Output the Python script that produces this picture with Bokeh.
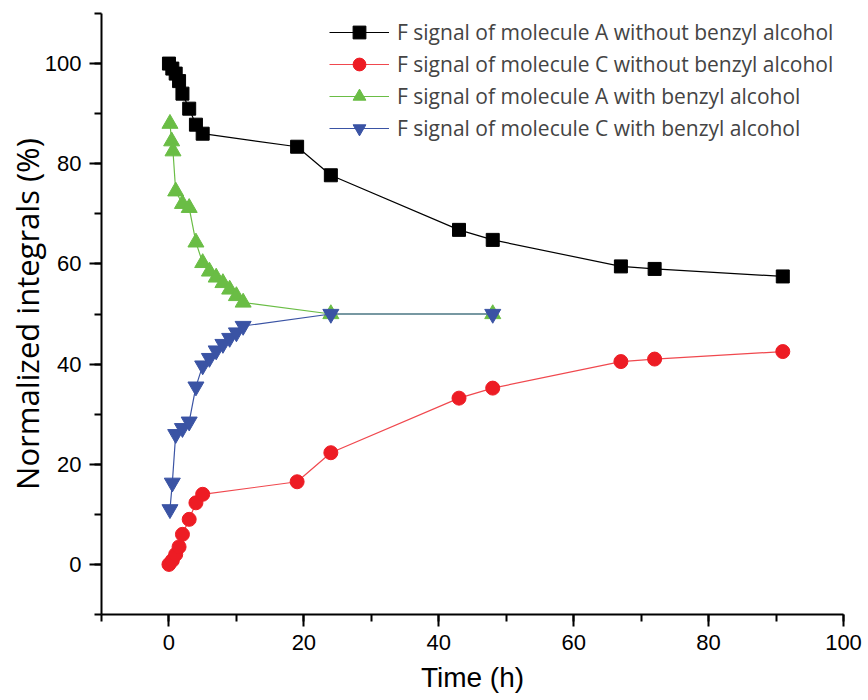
from bokeh.plotting import figure
from bokeh.models import Range1d, SingleIntervalTicker, Legend, LegendItem
from bokeh.embed import file_html
from bokeh.resources import INLINE

# Data
a_no_t = [0, 0.5, 1, 1.5, 2, 3, 4, 5, 19, 24, 43, 48, 67, 72, 91]
a_no_v = [100, 99, 98, 96.5, 94, 91, 87.8, 86, 83.4, 77.7, 66.8, 64.8, 59.5, 59, 57.5]

c_no_t = [0, 0.5, 1, 1.5, 2, 3, 4, 5, 19, 24, 43, 48, 67, 72, 91]
c_no_v = [0, 0.8, 2, 3.5, 6, 9, 12.3, 14, 16.5, 22.3, 33.2, 35.2, 40.5, 41, 42.5]

a_w_t = [0.15, 0.4, 0.6, 1, 2, 3, 4, 5, 6, 7, 8, 9, 10, 11, 24, 48]
a_w_v = [88, 84.5, 82.5, 74.5, 72, 71.2, 64.3, 60.2, 58.5, 57.3, 56.2, 54.9, 53.6, 52.3, 50, 50]

c_w_t = [0.15, 0.5, 1, 2, 3, 4, 5, 6, 7, 8, 9, 10, 11, 24, 48]
c_w_v = [11, 16.3, 26, 27.2, 28.5, 35.5, 39.7, 41.2, 42.7, 44, 45.2, 46.3, 47.6, 50, 50]

labels = [
    "F signal of molecule A without benzyl alcohol",
    "F signal of molecule C without benzyl alcohol",
    "F signal of molecule A with benzyl alcohol",
    "F signal of molecule C with benzyl alcohol",
]
colors = ["#000000", "#ed1c24", "#6abd45", "#3a53a4"]
line_colors = ["#000000", "#f0484e", "#6abd45", "#3a53a4"]
markers = ["square", "circle", "triangle", "inverted_triangle"]
sizes = [13, 14, 16, 16]

p = figure(width=868, height=700, output_backend="svg", toolbar_location=None,
           x_range=Range1d(-10, 100), y_range=Range1d(-10, 110),
           min_border_left=101, min_border_right=25, min_border_top=13, min_border_bottom=86)
p.xgrid.visible = False
p.ygrid.visible = False
p.outline_line_color = None

series = [(a_no_t, a_no_v), (c_no_t, c_no_v), (a_w_t, a_w_v), (c_w_t, c_w_v)]
items = []
for (t, v), lab, col, lc, mk, sz in zip(series, labels, colors, line_colors, markers, sizes):
    r1 = p.line(t, v, line_color=lc, line_width=1.2)
    r2 = p.scatter(t, v, marker=mk, size=sz, fill_color=col, line_color=col)
    items.append(LegendItem(label=lab, renderers=[r1, r2]))

legend = Legend(items=items, location=(228, 470), margin=0, padding=9,
                glyph_width=60, glyph_height=32, label_height=20, spacing=0,
                label_standoff=8, label_text_font="Open Sans", label_text_font_size="21px",
                label_text_baseline="middle",
                background_fill_alpha=0, border_line_color=None)
p.add_layout(legend, "center")

for ax in (p.xaxis[0], p.yaxis[0]):
    ax.axis_line_width = 2
    ax.axis_line_color = "black"
    ax.major_tick_line_width = 2
    ax.minor_tick_line_width = 2
    ax.major_tick_in = 0
    ax.major_tick_out = 12
    ax.minor_tick_in = 0
    ax.minor_tick_out = 7
    ax.major_label_text_color = "black"
    ax.major_label_text_font = "Liberation Sans"
    ax.major_label_text_font_size = "22px"
    ax.axis_label_text_font_style = "normal"
    ax.axis_label_text_color = "black"

p.xaxis.ticker = SingleIntervalTicker(interval=20, num_minor_ticks=2)
p.yaxis.ticker = SingleIntervalTicker(interval=20, num_minor_ticks=2)

p.xaxis.major_label_standoff = 8
p.xaxis.axis_label = "Time (h)"
p.xaxis.axis_label_text_font = "Liberation Sans"
p.xaxis.axis_label_text_font_size = "28px"
p.xaxis.axis_label_standoff = 9

p.yaxis.major_label_standoff = 8
p.yaxis.axis_label = "Normalized integrals (%)"
p.yaxis.axis_label_text_font = "Open Sans"
p.yaxis.axis_label_text_font_size = "31px"
p.yaxis.axis_label_standoff = -6

open("out.html", "w").write(file_html(p, INLINE))
